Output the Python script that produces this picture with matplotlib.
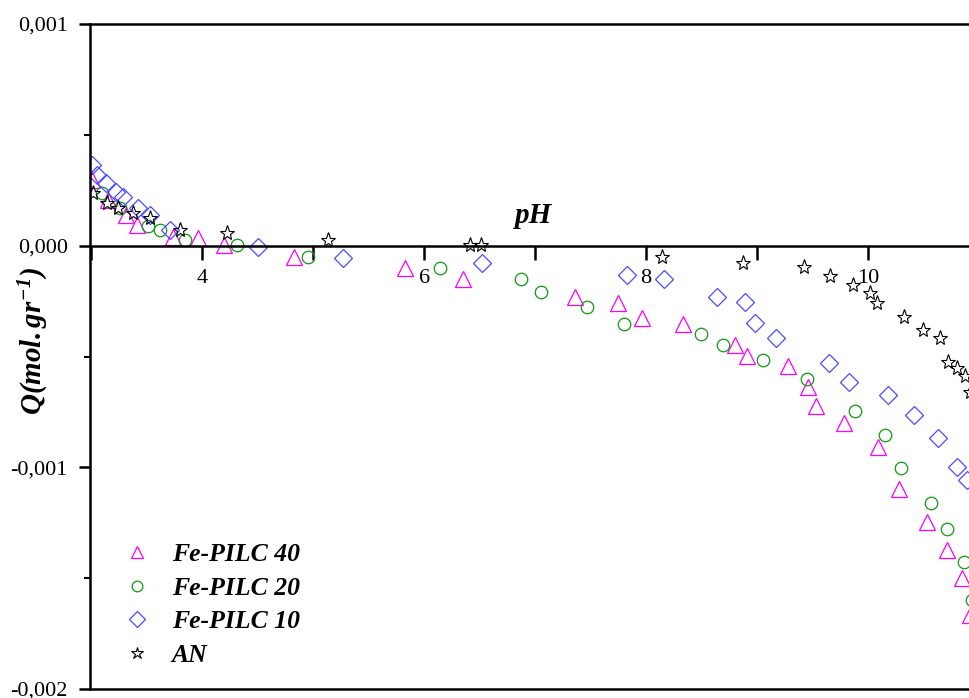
import matplotlib
matplotlib.use('Agg')
import matplotlib.pyplot as plt

plt.rcParams['font.family'] = ['Liberation Serif', 'DejaVu Serif']
plt.rcParams['mathtext.fontset'] = 'custom'
plt.rcParams['mathtext.rm'] = 'Liberation Serif:bold:italic'
plt.rcParams['mathtext.it'] = 'Liberation Serif:bold:italic'
plt.rcParams['mathtext.bf'] = 'Liberation Serif:bold:italic'

# Fe-PILC 40
ph_40 = [3.01, 3.15, 3.31, 3.41, 3.74, 3.96, 4.20, 4.83, 5.83, 6.35, 7.36, 7.75, 7.96,
         8.33, 8.80, 8.91, 9.28, 9.46, 9.53, 9.78, 10.09, 10.28, 10.53, 10.71, 10.85, 10.92]
q_40 = [0.295, 0.205, 0.138, 0.092, 0.038, 0.034, 0.002, -0.052, -0.101, -0.151, -0.232,
        -0.259, -0.327, -0.354, -0.449, -0.498, -0.543, -0.638, -0.724, -0.800, -0.909,
        -1.098, -1.247, -1.373, -1.500, -1.667]

# Fe-PILC 20
ph_20 = [3.10, 3.26, 3.51, 3.62, 3.85, 4.31, 4.95, 6.14, 6.87, 7.05, 7.47, 7.80, 8.49,
         8.69, 9.05, 9.45, 9.88, 10.15, 10.30, 10.57, 10.71, 10.86, 10.94]
q_20 = [0.237, 0.169, 0.088, 0.070, 0.025, 0.002, -0.052, -0.101, -0.151, -0.210, -0.277,
        -0.354, -0.399, -0.449, -0.517, -0.603, -0.748, -0.855, -1.004, -1.162, -1.279,
        -1.428, -1.600]

# Fe-PILC 10
ph_10 = [3.01, 3.05, 3.13, 3.22, 3.29, 3.42, 3.53, 3.71, 4.50, 5.27, 6.52, 7.83, 8.16,
         8.64, 8.89, 8.98, 9.17, 9.65, 9.83, 10.18, 10.41, 10.63, 10.80, 10.89]
q_10 = [0.363, 0.318, 0.282, 0.241, 0.219, 0.169, 0.138, 0.070, -0.007, -0.056, -0.079,
        -0.133, -0.151, -0.232, -0.254, -0.350, -0.417, -0.530, -0.616, -0.674, -0.764,
        -0.868, -0.999, -1.058]

# AN
ph_an = [3.02, 3.14, 3.24, 3.38, 3.53, 3.80, 4.22, 5.13, 6.41, 6.51, 8.14, 8.87, 9.42,
         9.66, 9.86, 10.02, 10.08, 10.32, 10.49, 10.65, 10.72, 10.80, 10.87, 10.92]
q_an = [0.237, 0.192, 0.169, 0.147, 0.124, 0.070, 0.056, 0.025, 0.002, 0.002, -0.052,
        -0.079, -0.097, -0.138, -0.178, -0.214, -0.259, -0.323, -0.381, -0.417, -0.526,
        -0.553, -0.589, -0.661]

x_ticks = [3, 4, 5, 6, 7, 8, 9, 10, 11]
x_labels = ['', '4', '', '6', '', '8', '', '10', '']
y_ticks = [-0.002, -0.001, 0.0, 0.001]
y_labels = ['-0,002', '-0,001', '0,000', '0,001']

fig = plt.figure(figsize=(9.7, 6.98), dpi=100)
ax = fig.add_axes([0.0928, 0.0129, 1.0, 0.9527])

k = 1e-3
ax.plot(ph_40, [v * k for v in q_40], ls='none', marker='^', ms=11, mfc='none',
        mec='#ff00ff', mew=0.9, label='Fe-PILC 40')
ax.plot(ph_20, [v * k for v in q_20], ls='none', marker='o', ms=9, mfc='none',
        mec='#119911', mew=0.9, label='Fe-PILC 20')
ax.plot(ph_10, [v * k for v in q_10], ls='none', marker='D', ms=9, mfc='none',
        mec='#4a4aff', mew=0.9, label='Fe-PILC 10')
ax.plot(ph_an, [v * k for v in q_an], ls='none', marker='*', ms=11, mfc='none',
        mec='black', mew=0.8, label='AN')

ax.set_xlim(2.99, 2.99 + 970 / 111)
ax.set_ylim(-0.002, 0.001)

ax.spines['bottom'].set_position(('data', 0))
ax.spines['right'].set_visible(False)
for s in ['bottom', 'top', 'left']:
    ax.spines[s].set_linewidth(1.8)
ax.axhline(-0.002, color='black', lw=1.8, clip_on=False)

ax.set_xticks(x_ticks)
ax.set_xticklabels(x_labels)
ax.set_yticks(y_ticks)
ax.set_yticklabels(y_labels)
ax.set_yticks([-0.0015, -0.0005, 0.0005], minor=True)
ax.tick_params(axis='x', direction='out', length=10, width=1.8, labelsize=16, pad=7)
ax.tick_params(axis='y', which='major', direction='out', length=8, width=1.8,
               labelsize=16, pad=8)
ax.tick_params(axis='y', which='minor', direction='out', length=4, width=1.5)

ax.text(6.98, 0.000138, 'pH', fontsize=21, fontweight='bold', fontstyle='italic',
        ha='center', va='center')
fig.text(0.035, 0.511, r'$Q(mol.gr^{-1})$', fontsize=21, rotation=90,
         ha='center', va='center')

leg = ax.legend(loc='upper left', bbox_to_anchor=(0.011, 0.254), frameon=False,
                prop={'size': 18.5, 'weight': 'bold', 'style': 'italic'},
                handlelength=1.0, handletextpad=0.86, labelspacing=0.41,
                markerscale=0.85, numpoints=1)

fig.savefig('out.png', dpi=100)
